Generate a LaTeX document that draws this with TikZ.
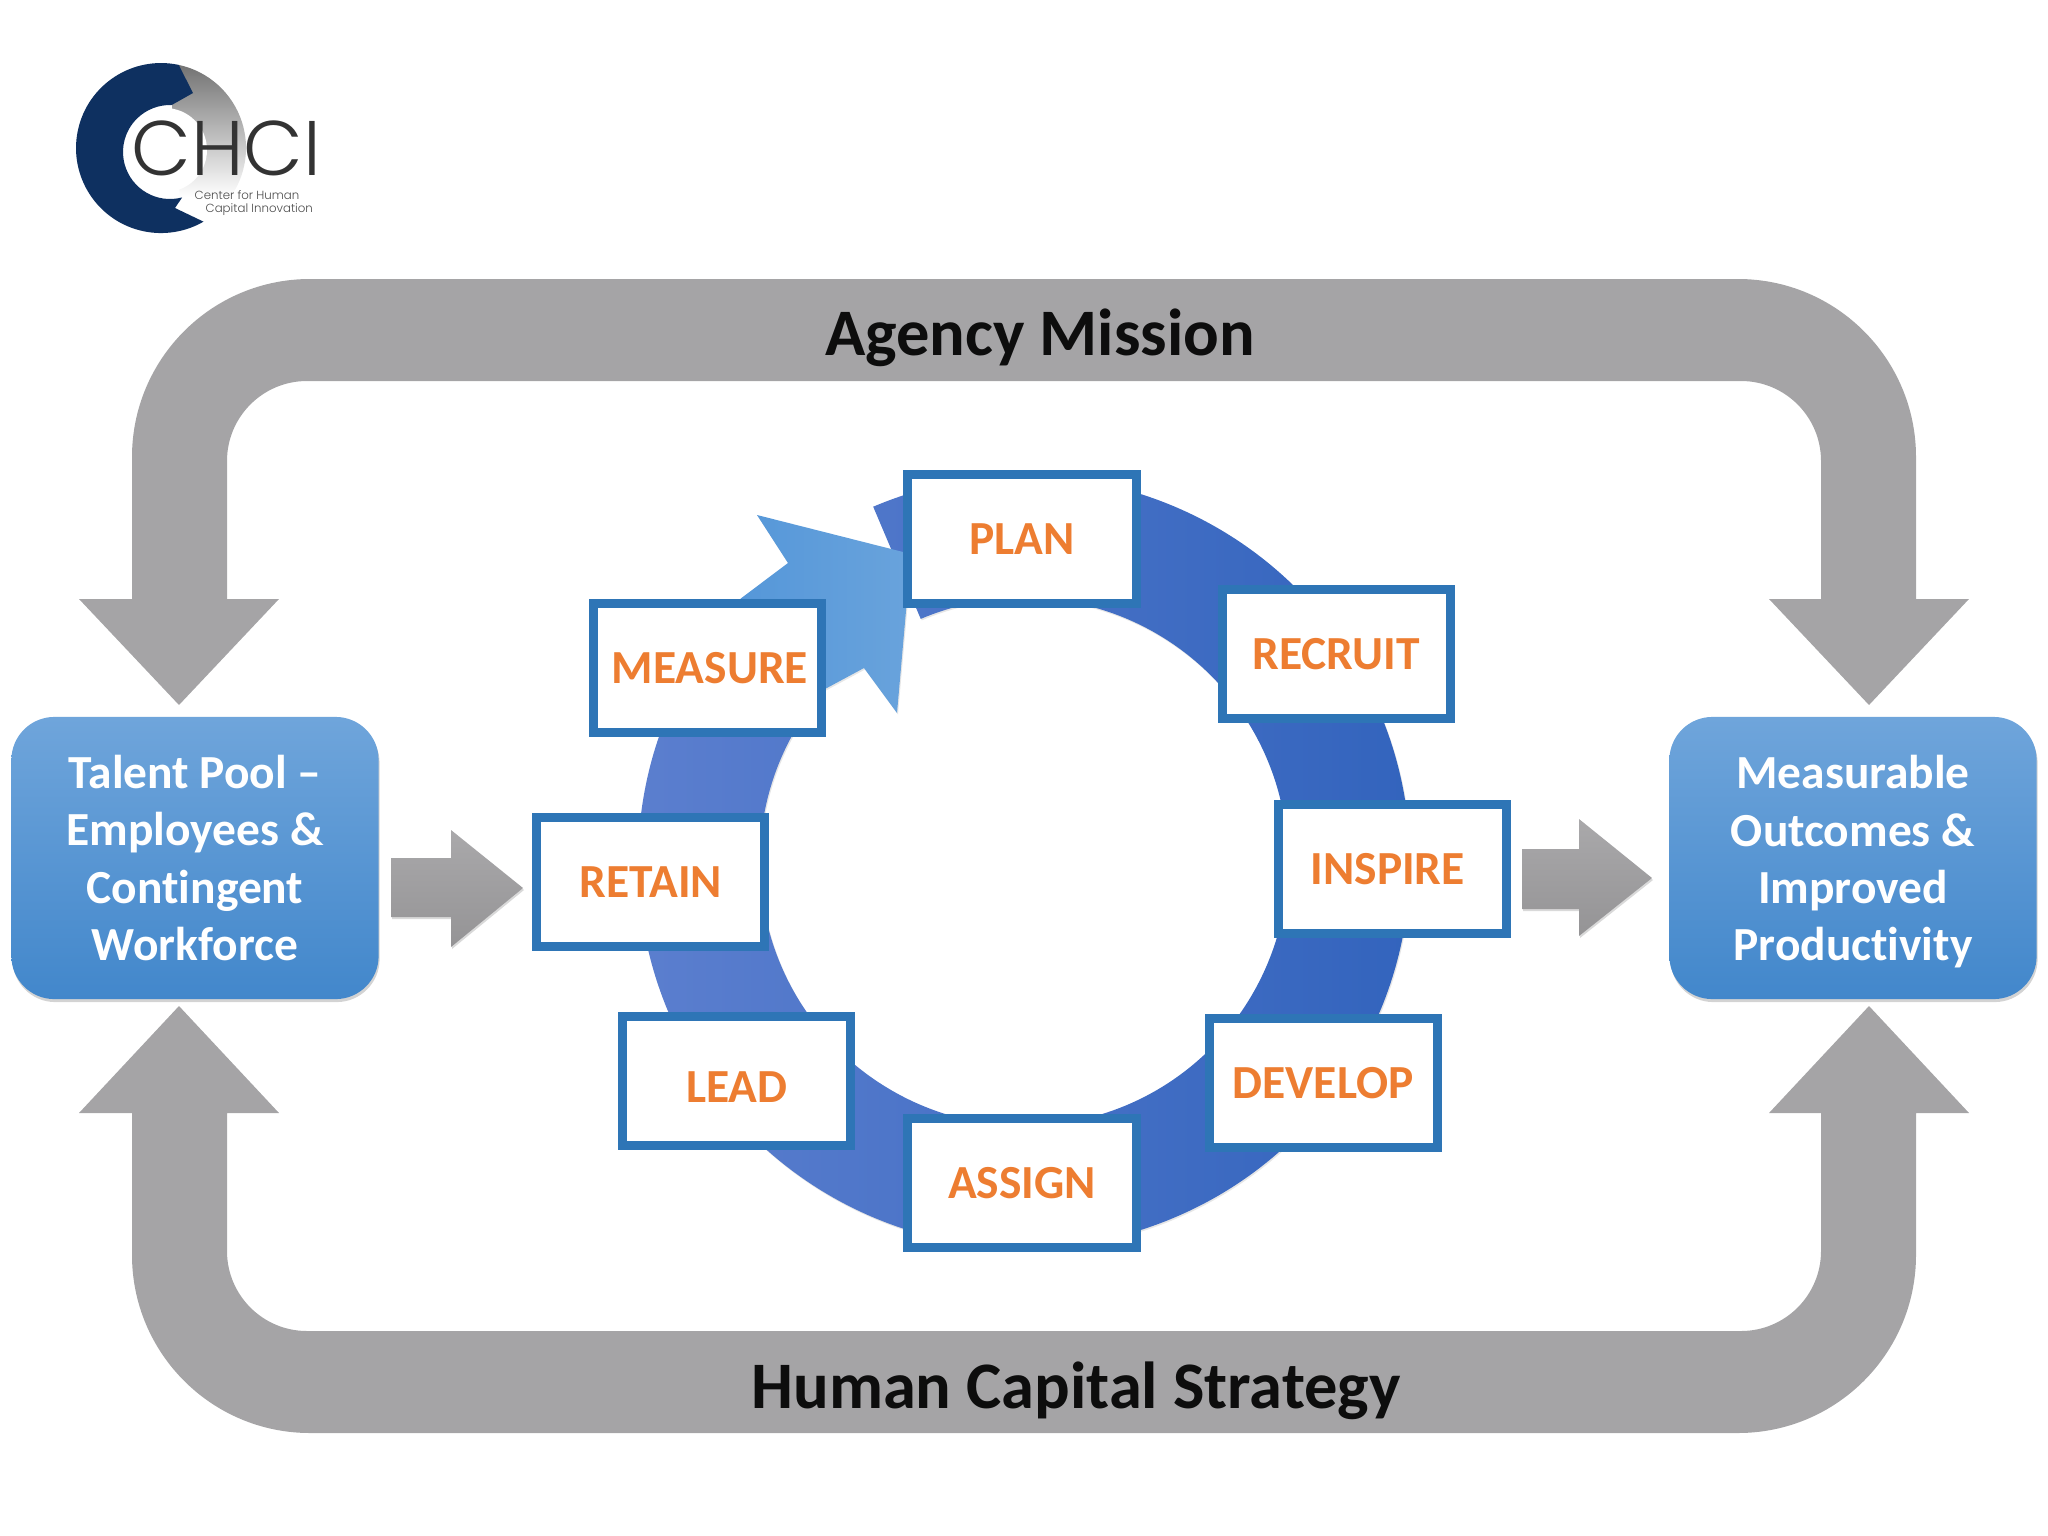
\documentclass[tikz,border=0pt]{standalone}
\usepackage{xcolor}
\usepackage{fontspec}
\setmainfont[Ligatures=NoCommon]{Carlito}
\newfontfamily\logofont{Poppins Light}
\usepackage{tikz}
\usetikzlibrary{positioning,shadows}
\definecolor{framegray}{RGB}{165,164,166}
\definecolor{stageblue}{RGB}{46,117,182}
\definecolor{stageorange}{RGB}{237,125,49}
\definecolor{ringleft}{RGB}{92,127,207}
\definecolor{ringmid}{RGB}{66,110,196}
\definecolor{ringright}{RGB}{48,98,188}
\definecolor{headleft}{RGB}{80,148,216}
\definecolor{headright}{RGB}{105,163,220}
\definecolor{pooltop}{RGB}{111,165,219}
\definecolor{poolmid}{RGB}{82,151,215}
\definecolor{poolbottom}{RGB}{66,135,203}
\definecolor{logonavy}{RGB}{14,48,96}
\begin{document}
\begin{tikzpicture}[
  x=0.01cm, y=-0.01cm,
  node distance=0.77cm,
  stage/.style={rectangle, draw=stageblue, line width=0.09cm, fill=white, minimum width=2.28cm, minimum height=1.29cm, align=center, font=\fontsize{13.5}{16}\selectfont\bfseries, text=stageorange},
  pool/.style={rectangle, rounded corners=0.43cm, top color=pooltop, middle color=poolmid, bottom color=poolbottom, minimum width=3.67cm, minimum height=2.82cm, align=center, font=\fontsize{13.5}{16.3}\selectfont\bfseries, text=white, drop shadow={shadow xshift=0.01cm, shadow yshift=-0.03cm, opacity=0.35}},
  band/.style={fill=framegray},
  flow/.style={top color=framegray!95!white, bottom color=framegray!90!black, drop shadow={shadow xshift=0.01cm, shadow yshift=-0.02cm, opacity=0.3}},
  ringshadow/.style={drop shadow={shadow xshift=0.01cm, shadow yshift=-0.015cm, opacity=0.2}},
  banner/.style={font=\fontsize{18.9}{22}\selectfont\bfseries, text=black!95}
]
\useasboundingbox (0,0) rectangle (2048,1536);

\fill[band] (179,705) -- (79,599) -- (132,599) -- (132,457) arc[start angle=180, end angle=270, radius=178] -- (1738,279) arc[start angle=270, end angle=360, radius=178] -- (1916,599) -- (1969,599) -- (1869,705) -- (1769,599) -- (1821,599) -- (1821,461) arc[start angle=360, end angle=270, radius=80] -- (307,381) arc[start angle=270, end angle=180, radius=80] -- (227,599) -- (279,599) -- cycle;
\fill[band] (179,1006) -- (79,1113) -- (132,1113) -- (132,1255) arc[start angle=180, end angle=90, radius=178] -- (1738,1433) arc[start angle=90, end angle=0, radius=178] -- (1916,1113) -- (1969,1113) -- (1869,1006) -- (1769,1113) -- (1821,1113) -- (1821,1251) arc[start angle=0, end angle=90, radius=80] -- (307,1331) arc[start angle=90, end angle=180, radius=80] -- (227,1113) -- (279,1113) -- cycle;

\shade[ringshadow, left color=ringleft, middle color=ringmid, right color=ringright] (873.2,506.7) arc[start angle=247, end angle=572, radius=386] -- (800,722) arc[start angle=572, end angle=247, radius=264] -- cycle;
\shade[ringshadow, left color=headleft, right color=headright] (696,657) arc[start angle=212, end angle=223, radius=386] -- (788,563) -- (757,515) -- (911,554) -- (897,713) -- (864,668) -- (825,689) arc[start angle=221, end angle=212, radius=264] -- cycle;

\node[stage] (plan) at (1022,539) {PLAN};
\node[stage, right=of plan, yshift=-1.15cm] (recruit) {RECRUIT};
\node[stage, below=of recruit, xshift=0.56cm] (inspire) {\hspace*{-0.09cm}INSPIRE};
\node[stage, below=of inspire, xshift=-0.69cm, yshift=0.01cm] (develop) {DEVELOP};
\node[stage, left=0.64cm of develop, yshift=-0.995cm] (assign) {ASSIGN};
\node[stage, left=0.48cm of assign, yshift=1.015cm] (lead) {\raisebox{-0.06cm}[\height][0pt]{LEAD}};
\node[stage, above=0.615cm of lead, xshift=-0.86cm] (retain) {RETAIN};
\node[stage, left=of plan, yshift=-1.29cm] (measure) {\hspace*{0.04cm}MEASURE};

\node[pool] (talent) at (195,858) {Talent Pool --\\ Employees \&\\ Contingent\\ Workforce};
\node[pool] (outcomes) at (1853,858) {Measurable\\ Outcomes \&\\ Improved\\ \smash{Productivity}};

\path[flow] (391,858) -- (451,858) -- (451,830) -- (523,888) -- (451,947) -- (451,917) -- (391,917) -- cycle;
\path[flow] (1522,849) -- (1579,849) -- (1579,819) -- (1652,878) -- (1579,936) -- (1579,909) -- (1522,909) -- cycle;

\node[banner] (mission) at (1040,338) {Agency Mission};
\node[banner] (strategy) at (1076,1391) {Human Capital Strategy};

\shade[top color=black!55, bottom color=white] (178.7,64.9) arc[start angle=282, end angle=395, radius=85] -- (180,197) -- (172,105) -- cycle;
\fill[white] (165,150) circle[radius=42];
\fill[logonavy] (178.7,64.9) arc[start angle=282, end angle=60, radius=85] -- (175,208) -- (182.2,197.4) arc[start angle=75, end angle=272, radius=47] -- (193,93) -- cycle;
\node[font=\logofont\fontsize{22}{22}\selectfont, text=black!80, anchor=west, inner sep=0pt] (logoname) at (131,148) {CHCI};
\node[font=\logofont\fontsize{3.35}{3.7}\selectfont, text=black!70, anchor=west, inner sep=0pt, align=left] (logoline) at (194,203) {Center for Human\\ \hspace*{0.11cm}Capital Innovation};
\end{tikzpicture}
\end{document}
